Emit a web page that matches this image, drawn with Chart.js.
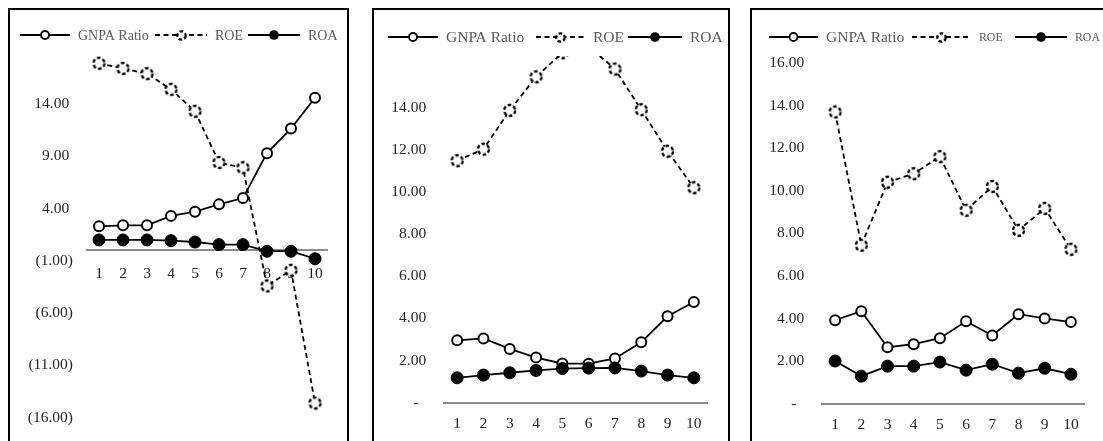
<!DOCTYPE html>
<html>
<head>
<meta charset="utf-8">
<script src="https://cdn.jsdelivr.net/npm/chart.js@4.4.1/dist/chart.umd.min.js"></script>
<style>
html, body { margin: 0; padding: 0; width: 1103px; height: 441px; overflow: hidden; background: #fff; }
.panel { position: absolute; top: 8px; height: 470px; border: 2px solid #000; box-sizing: border-box; }
canvas { position: absolute; top: 0; }
</style>
</head>
<body>
<div class="panel" style="left:8px;width:341px"></div>
<div class="panel" style="left:372px;width:358px"></div>
<div class="panel" style="left:750px;width:420px"></div>
<canvas id="chart1" width="337" height="441" style="left:10px"></canvas>
<canvas id="chart2" width="354" height="441" style="left:374px"></canvas>
<canvas id="chart3" width="351" height="441" style="left:752px"></canvas>
<script>
var categories = ['1', '2', '3', '4', '5', '6', '7', '8', '9', '10'];
var seriesNames = ['GNPA Ratio', 'ROE', 'ROA'];

// left panel
var gnpa1 = [2.3, 2.4, 2.4, 3.3, 3.7, 4.4, 5.0, 9.3, 11.65, 14.6];
var roe1 = [17.9, 17.4, 16.9, 15.4, 13.3, 8.4, 7.9, -3.4, -1.9, -14.6];
var roa1 = [1.0, 1.0, 1.0, 0.93, 0.8, 0.55, 0.55, -0.08, -0.08, -0.8];
var ticks1 = { min: -16, max: 19, step: 5 };

// middle panel
var gnpa2 = [2.96, 3.05, 2.55, 2.14, 1.86, 1.85, 2.1, 2.87, 4.1, 4.78];
var roe2 = [11.48, 12.03, 13.87, 15.46, 16.6, 16.9, 15.83, 13.9, 11.93, 10.2];
var roa2 = [1.18, 1.31, 1.42, 1.53, 1.62, 1.64, 1.65, 1.5, 1.31, 1.18];
var ticks2 = { min: 0, max: 18, step: 2 };

// right panel
var gnpa3 = [3.92, 4.34, 2.65, 2.79, 3.07, 3.87, 3.2, 4.2, 4.0, 3.83];
var roe3 = [13.7, 7.44, 10.4, 10.8, 11.6, 9.08, 10.2, 8.14, 9.17, 7.25];
var roa3 = [2.0, 1.29, 1.76, 1.76, 1.95, 1.57, 1.85, 1.43, 1.66, 1.38];
var ticks3 = { min: 0, max: 16, step: 2 };

var FONT = '"Liberation Serif", "Times New Roman", serif';

//dashed circle marker used for ROE
function dashedMarker(r) {
    var size = Math.ceil(r * 2 + 4);
    var c = document.createElement('canvas');
    c.width = size;
    c.height = size;
    var ctx = c.getContext('2d');
    ctx.fillStyle = '#fff';
    ctx.strokeStyle = '#000';
    ctx.lineWidth = 2.3;
    ctx.setLineDash([3.6, 2.2]);
    ctx.beginPath();
    ctx.arc(size / 2, size / 2, r, 0, Math.PI * 2);
    ctx.fill();
    ctx.stroke();
    return c;
}

//accounting style tick label
function tickLabel(v) {
    if(v == 0) {
        return '-   ';
    }
    if(v < 0) {
        return '(' + Math.abs(v).toFixed(2) + ')';
    }
    return v.toFixed(2) + ' ';
}

//legend drawn over the top of the plot, like the excel one
var boxLegend = {
    id: 'boxLegend',
    afterDatasetsDraw: function(chart, args, opts) {
        var ctx = chart.ctx;
        ctx.save();
        ctx.fillStyle = '#fff';
        ctx.fillRect(0, opts.boxTop, chart.width, opts.boxBottom - opts.boxTop);
        var y = opts.y;
        for(var i = 0; i < seriesNames.length; i++) {
            var x = opts.x[i];
            var len = opts.len[i];
            ctx.strokeStyle = '#000';
            ctx.lineWidth = 1.8;
            ctx.setLineDash(i == 1 ? [5, 3.5] : []);
            ctx.beginPath();
            ctx.moveTo(x, y);
            ctx.lineTo(x + len, y);
            ctx.stroke();
            ctx.setLineDash([]);
            var cx = x + len / 2;
            if(i == 0) {
                ctx.fillStyle = '#fff';
                ctx.beginPath();
                ctx.arc(cx, y, 4, 0, Math.PI * 2);
                ctx.fill();
                ctx.stroke();
            } else if(i == 1) {
                var m = dashedMarker(4.2);
                ctx.drawImage(m, Math.round(cx - m.width / 2), Math.round(y - m.height / 2));
            } else {
                ctx.fillStyle = '#000';
                ctx.beginPath();
                ctx.arc(cx, y, 4.8, 0, Math.PI * 2);
                ctx.fill();
            }
            ctx.fillStyle = '#595959';
            ctx.font = opts.fontSize[i] + 'px ' + FONT;
            ctx.textBaseline = 'middle';
            ctx.textAlign = 'left';
            ctx.fillText(seriesNames[i], x + len + 8, y + 1);
        }
        ctx.restore();
    }
};

function makeChart(id, gnpa, roe, roa, t, cfg) {
    var xScale = {
        type: 'category',
        offset: true,
        grid: { display: false, drawTicks: false },
        border: { display: true, color: '#8c8c8c', width: 2 },
        ticks: { color: '#262626', font: { family: FONT, size: 15.5 }, padding: 12, maxRotation: 0, autoSkip: false }
    };
    if(cfg.zeroAxis) {
        xScale.position = { y: 0 };
        xScale.ticks.padding = 14;
    } else {
        xScale.position = 'bottom';
        xScale.afterFit = function(s) { s.height = cfg.xHeight; };
    }
    return new Chart(document.getElementById(id), {
        type: 'line',
        data: {
            labels: categories,
            datasets: [
                {
                    label: seriesNames[0],
                    data: gnpa,
                    order: 2,
                    borderColor: '#000',
                    borderWidth: 1.8,
                    pointStyle: 'circle',
                    pointRadius: 5,
                    pointBorderWidth: 2,
                    pointBackgroundColor: '#fff',
                    pointBorderColor: '#000'
                },
                {
                    label: seriesNames[1],
                    data: roe,
                    order: 1,
                    borderColor: '#000',
                    borderWidth: 1.8,
                    borderDash: [5, 3.5],
                    pointStyle: dashedMarker(5.5),
                    pointRadius: 6
                },
                {
                    label: seriesNames[2],
                    data: roa,
                    order: 0,
                    borderColor: '#000',
                    borderWidth: 1.8,
                    pointStyle: 'circle',
                    pointRadius: 6,
                    pointBorderWidth: 1,
                    pointBackgroundColor: '#000',
                    pointBorderColor: '#000'
                }
            ]
        },
        options: {
            responsive: false,
            animation: false,
            events: [],
            layout: { padding: { left: 0, top: cfg.padTop, right: cfg.padRight, bottom: cfg.padBottom } },
            scales: {
                x: xScale,
                y: {
                    min: t.min,
                    max: t.max,
                    grid: { display: false, drawTicks: false },
                    border: { display: false },
                    afterFit: function(s) { s.width = cfg.yWidth; },
                    ticks: {
                        stepSize: t.step,
                        padding: 14,
                        color: '#262626',
                        font: { family: FONT, size: 15.5 },
                        callback: function(v) {
                            if(v > cfg.labelMax) {
                                return null;
                            }
                            return tickLabel(v);
                        }
                    }
                }
            },
            plugins: {
                legend: { display: false },
                tooltip: { enabled: false },
                boxLegend: cfg.legend
            }
        },
        plugins: [boxLegend]
    });
}

makeChart('chart1', gnpa1, roe1, roa1, ticks1, {
    zeroAxis: true,
    padTop: 51.7,
    padBottom: 19.4,
    padRight: 20,
    yWidth: 77,
    labelMax: 14,
    legend: { y: 35, boxTop: 20, boxBottom: 50, x: [10, 145, 238], len: [50, 52, 52], fontSize: [14, 14, 14] }
});

makeChart('chart2', gnpa2, roe2, roa2, ticks2, {
    zeroAxis: false,
    xHeight: 38.3,
    padTop: 9.8,
    padBottom: 0,
    padRight: 21,
    yWidth: 70,
    labelMax: 14,
    legend: { y: 37, boxTop: 18, boxBottom: 56, x: [14, 162, 254], len: [50, 49, 54], fontSize: [15.5, 15.5, 15.5] }
});

makeChart('chart3', gnpa3, roe3, roa3, ticks3, {
    zeroAxis: false,
    xHeight: 37.4,
    padTop: 63,
    padBottom: 0,
    padRight: 19,
    yWidth: 70,
    labelMax: 16,
    legend: { y: 37, boxTop: 22, boxBottom: 52, x: [17, 160, 263], len: [49, 59, 52], fontSize: [15.5, 11.8, 11.8] }
});
</script>
</body>
</html>
